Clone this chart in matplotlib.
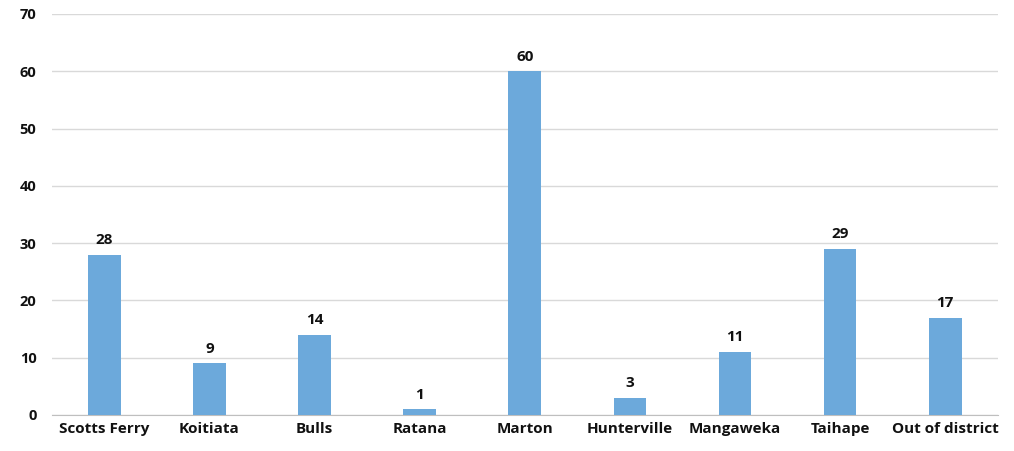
import matplotlib
matplotlib.use("Agg")
import matplotlib.pyplot as plt
import numpy as np

places = ["Scotts Ferry", "Koitiata", "Bulls", "Ratana", "Marton",
          "Hunterville", "Mangaweka", "Taihape", "Out of district"]
counts = [28, 9, 14, 1, 60, 3, 11, 29, 17]

plt.rcParams['font.family'] = ['Open Sans', 'DejaVu Sans']

fig = plt.figure(figsize=(10.14, 4.51), dpi=100)
ax = fig.add_axes([0.051, 0.080, 0.933, 0.889])

x = np.arange(len(places))
ax.bar(x, counts, width=0.31, color="#6CA9DB", zorder=3)
for a, b in zip(x, counts):
    ax.text(a, b + 1.3, str(b), ha="center", va="bottom",
            fontsize=11, fontweight="bold", color="#111111")

ax.set_xlim(-0.5, len(places) - 0.5)
ax.set_ylim(0, 70)
ax.set_yticks(range(0, 71, 10))
ax.set_xticks(x)
ax.set_xticklabels(places, fontsize=11, fontweight="bold")
for lab in ax.get_yticklabels():
    lab.set_fontweight("bold")
    lab.set_fontsize(10.5)
ax.tick_params(axis="both", length=0, colors="#111111")
ax.tick_params(axis="y", pad=11)
ax.tick_params(axis="x", pad=5)
ax.grid(axis="y", color="#D9D9D9", linewidth=1, zorder=0)
for s in ["left", "right", "top"]:
    ax.spines[s].set_visible(False)
ax.spines["bottom"].set_color("#BFBFBF")

fig.savefig("out.png", dpi=100)
